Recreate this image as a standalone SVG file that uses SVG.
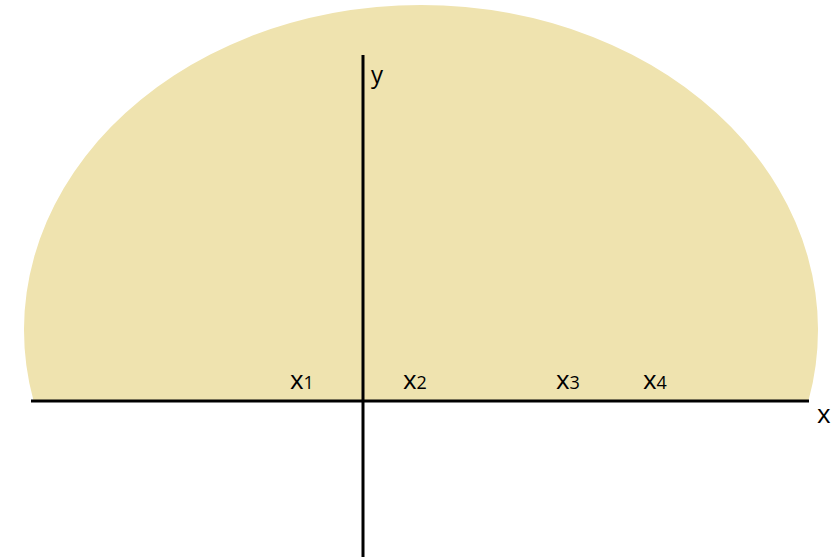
<svg xmlns="http://www.w3.org/2000/svg" width="833" height="557" viewBox="0 0 833 557">
<style>
.ax{stroke:#000;stroke-width:3;fill:none}
.lb{font-family:"Open Sans","Liberation Sans",sans-serif;fill:#000}
.v{font-size:26px}
.s{font-size:18px}
</style>
<rect width="833" height="557" fill="#fff"/>
<g id="region">
<path d="M 33.6 401 A 397 325 0 1 1 808.4 401 Z" fill="#EFE3AF"/>
</g>
<g id="axes">
<line class="ax" x1="31" y1="401" x2="809" y2="401"/>
<line class="ax" x1="363" y1="55" x2="363" y2="557"/>
</g>
<g id="labels">
<text class="lb v" x="371" y="83" style="font-size:24px">y</text>
<text class="lb v" x="817" y="423">x</text>
<text class="lb" x="290" y="389"><tspan class="v">x</tspan><tspan class="s">1</tspan></text>
<text class="lb" x="403" y="389"><tspan class="v">x</tspan><tspan class="s">2</tspan></text>
<text class="lb" x="556" y="389"><tspan class="v">x</tspan><tspan class="s">3</tspan></text>
<text class="lb" x="643" y="389"><tspan class="v">x</tspan><tspan class="s">4</tspan></text>
</g>
</svg>
